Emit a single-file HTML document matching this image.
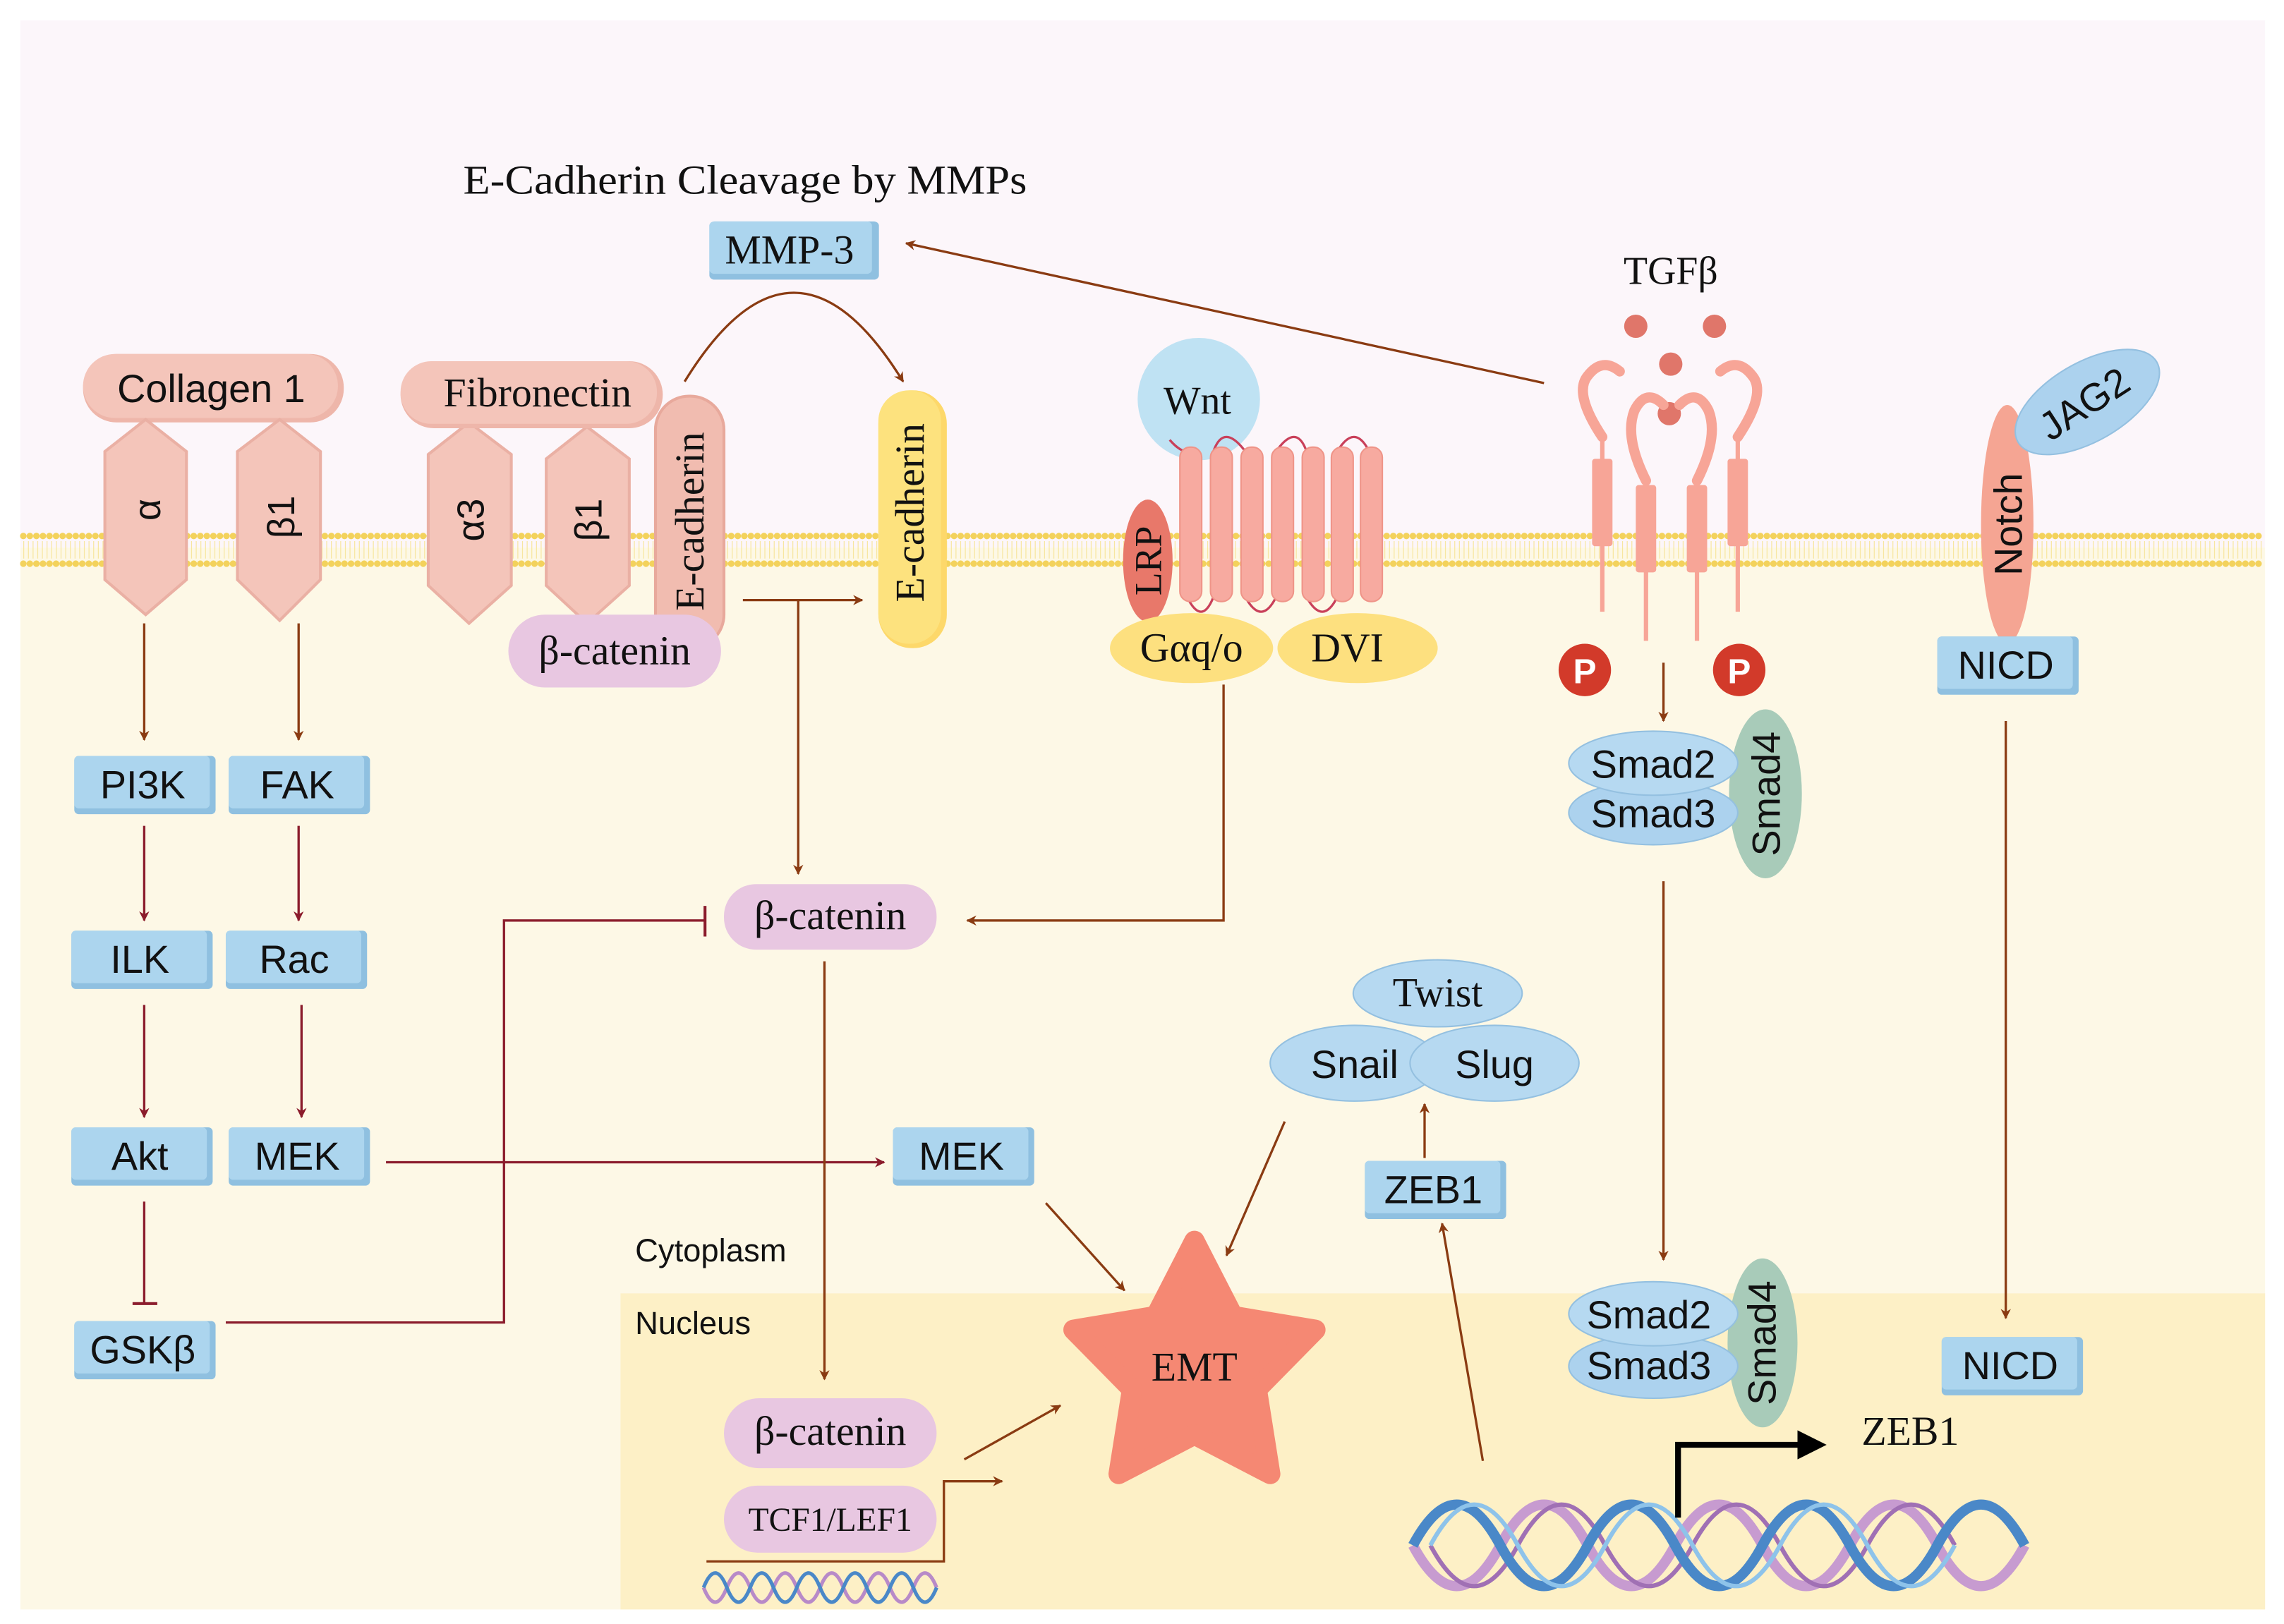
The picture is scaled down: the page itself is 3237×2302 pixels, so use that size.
<!DOCTYPE html>
<html><head><meta charset="utf-8"><style>
html,body{margin:0;padding:0;background:#fff}
svg{display:block}
.s{font-family:"Liberation Sans",sans-serif;fill:#111}
.r{font-family:"Liberation Serif",serif;fill:#111}
</style></head><body>
<svg width="3237" height="2302" viewBox="0 0 1568 1115" preserveAspectRatio="none" xmlns="http://www.w3.org/2000/svg">
<defs>
<marker id="ab" viewBox="0 0 10 10" refX="9" refY="5" markerWidth="7" markerHeight="7" orient="auto-start-reverse" markerUnits="userSpaceOnUse"><path d="M0,0 L10,5 L0,10 L3,5 z" fill="#8a3b12"/></marker>
<marker id="ar" viewBox="0 0 10 10" refX="9" refY="5" markerWidth="7" markerHeight="7" orient="auto" markerUnits="userSpaceOnUse"><path d="M0,0 L10,5 L0,10 L3,5 z" fill="#8b1c2c"/></marker>
<marker id="ak" viewBox="0 0 10 10" refX="8" refY="5" markerWidth="20" markerHeight="20" orient="auto" markerUnits="userSpaceOnUse"><path d="M0,0 L10,5 L0,10 z" fill="#000"/></marker>
<g id="box"><rect x="0" y="0" width="97" height="40" rx="3" fill="#8fc0e0"/><rect x="0" y="0" width="93" height="36" rx="3" fill="#acd5ee"/></g>
</defs>
<rect width="1568" height="1115" fill="#fff"/>
<rect x="14" y="14" width="1541" height="362" fill="#fcf6fa"/>
<rect x="14" y="376" width="1541" height="729" fill="#fdf8e6"/>
<rect x="426" y="888" width="1129" height="217" fill="#fdf0c6"/>
<g stroke="#f3d25c" stroke-linecap="round">
<line x1="16" y1="368" x2="1555" y2="368" stroke-width="4.5" stroke-dasharray="0 4.5"/>
<line x1="16" y1="387" x2="1555" y2="387" stroke-width="4.5" stroke-dasharray="0 4.5"/>
<line x1="16" y1="377.5" x2="1555" y2="377.5" stroke-width="12" stroke-dasharray="0.6 2.6" stroke-linecap="butt" stroke="#f7e6a0"/>
</g>
<text class="r" x="318" y="133" font-size="28" textLength="387" lengthAdjust="spacingAndGlyphs">E-Cadherin Cleavage by MMPs</text>
<g transform="translate(487,152)"><use href="#box" transform="scale(1.2,1)"/></g>
<text class="r" x="542" y="181" font-size="28" text-anchor="middle">MMP-3</text>
<line x1="1060" y1="263" x2="622" y2="167" stroke="#8a3b12" stroke-width="1.6" marker-end="url(#ab)"/>
<path d="M470,262 Q545,140 620,262" fill="none" stroke="#8a3b12" stroke-width="1.6" marker-end="url(#ab)"/>
<rect x="57" y="243" width="179" height="47" rx="23" fill="#eeb6aa"/>
<rect x="57" y="243" width="175" height="44" rx="22" fill="#f4c5ba"/>
<text class="s" x="145" y="276" font-size="27" text-anchor="middle">Collagen 1</text>
<g fill="#f4c5ba" stroke="#eab0a4" stroke-width="2">
<polygon points="100,288 128,310 128,398 100,422 72,398 72,310"/>
<polygon points="192,288 220,310 220,398 192,426 163,398 163,310"/>
<polygon points="322,290 351,312 351,402 322,428 294,402 294,312"/>
<polygon points="403,293 432,315 432,402 403,428 375,402 375,315"/>
</g>
<text class="s" font-size="26" transform="translate(110,350) rotate(-90)" text-anchor="middle">α</text>
<text class="s" font-size="26" transform="translate(202,355) rotate(-90)" text-anchor="middle">β1</text>
<text class="s" font-size="26" transform="translate(332,357) rotate(-90)" text-anchor="middle">α3</text>
<text class="s" font-size="26" transform="translate(413,357) rotate(-90)" text-anchor="middle">β1</text>
<rect x="275" y="248" width="180" height="46" rx="23" fill="#eeb6aa"/>
<rect x="275" y="248" width="176" height="43" rx="21" fill="#f4c5ba"/>
<text class="r" x="369" y="279" font-size="28" text-anchor="middle">Fibronectin</text>
<rect x="450" y="272" width="47" height="173" rx="23" fill="#f1bcb0" stroke="#e8a99c" stroke-width="2"/>
<text class="r" font-size="28" transform="translate(483,358) rotate(-90)" text-anchor="middle">E-cadherin</text>
<rect x="349" y="422" width="146" height="50" rx="25" fill="#e8c7e1"/>
<text class="r" x="422" y="456" font-size="28" text-anchor="middle">β-catenin</text>
<rect x="603" y="268" width="47" height="177" rx="23" fill="#fdd86a"/>
<rect x="603" y="268" width="43" height="174" rx="21" fill="#fde27e"/>
<text class="r" font-size="28" transform="translate(634,352) rotate(-90)" text-anchor="middle">E-cadherin</text>
<line x1="510" y1="412" x2="592" y2="412" stroke="#8a3b12" stroke-width="1.6" marker-end="url(#ab)"/>
<line x1="548" y1="412" x2="548" y2="600" stroke="#8a3b12" stroke-width="1.6" marker-end="url(#ab)"/>
<circle cx="823" cy="274" r="42" fill="#bfe2f3"/>
<text class="r" x="822" y="284" font-size="27" text-anchor="middle">Wnt</text>
<path d="M803,302 Q810,310 815,310 M833,310 Q840,290 855,310 M876,310 Q890,290 897,310 M918,310 Q930,290 940,310 M815,410 Q825,430 833,410 M855,410 Q866,430 876,410 M897,410 Q908,430 918,410" fill="none" stroke="#c9405a" stroke-width="1.6"/>
<g fill="#f7aaa0" stroke="#ef9488" stroke-width="1">
<rect x="810" y="307" width="15" height="106" rx="7"/><rect x="831" y="307" width="15" height="106" rx="7"/><rect x="852" y="307" width="15" height="106" rx="7"/><rect x="873" y="307" width="15" height="106" rx="7"/><rect x="894" y="307" width="15" height="106" rx="7"/><rect x="914" y="307" width="15" height="106" rx="7"/><rect x="934" y="307" width="15" height="106" rx="7"/>
</g>
<ellipse cx="788" cy="385" rx="17" ry="42" fill="#e8786a"/>
<text class="r" font-size="26" transform="translate(797,385) rotate(-90)" text-anchor="middle">LRP</text>
<ellipse cx="818" cy="445" rx="56" ry="24" fill="#fde07f"/>
<text class="r" x="818" y="454" font-size="28" text-anchor="middle">Gαq/o</text>
<ellipse cx="932" cy="445" rx="55" ry="24" fill="#fde07f"/>
<text class="r" x="925" y="454" font-size="28" text-anchor="middle">DVI</text>
<polyline points="840,470 840,632 664,632" fill="none" stroke="#8a3b12" stroke-width="1.6" marker-end="url(#ab)"/>
<text class="r" x="1147" y="195" font-size="27" text-anchor="middle">TGFβ</text>
<g fill="#e0766a"><circle cx="1123" cy="224" r="8"/><circle cx="1177" cy="224" r="8"/><circle cx="1147" cy="250" r="8"/><circle cx="1146" cy="284" r="8"/></g>
<g fill="none" stroke="#f7a597" stroke-width="7" stroke-linecap="round">
<path d="M1100,300 Q1080,270 1090,258 Q1100,245 1112,255"/>
<path d="M1193,300 Q1213,270 1203,258 Q1193,245 1181,255"/>
<path d="M1130,330 Q1115,300 1122,282 Q1130,266 1142,278"/>
<path d="M1165,330 Q1180,300 1173,282 Q1165,266 1153,278"/>
</g>
<g stroke="#f7a597" stroke-width="3"><line x1="1100" y1="300" x2="1100" y2="420"/><line x1="1193" y1="300" x2="1193" y2="420"/><line x1="1130" y1="330" x2="1130" y2="440"/><line x1="1165" y1="330" x2="1165" y2="440"/></g>
<g fill="#f7a597"><rect x="1093" y="315" width="14" height="60" rx="2"/><rect x="1186" y="315" width="14" height="60" rx="2"/><rect x="1123" y="333" width="14" height="60" rx="2"/><rect x="1158" y="333" width="14" height="60" rx="2"/></g>
<circle cx="1088" cy="460" r="18" fill="#d23a2a"/><text class="s" x="1088" y="469" font-size="24" font-weight="bold" style="fill:#fff" text-anchor="middle">P</text>
<circle cx="1194" cy="460" r="18" fill="#d23a2a"/><text class="s" x="1194" y="469" font-size="24" font-weight="bold" style="fill:#fff" text-anchor="middle">P</text>
<line x1="1142" y1="455" x2="1142" y2="495" stroke="#8a3b12" stroke-width="1.6" marker-end="url(#ab)"/>
<ellipse cx="1212" cy="545" rx="25" ry="58" fill="#a8cbb9"/>
<ellipse cx="1135" cy="558" rx="58" ry="22" fill="#acd2ee" stroke="#94c0e0"/>
<ellipse cx="1135" cy="524" rx="58" ry="22" fill="#b6d9f1" stroke="#94c0e0"/>
<text class="s" x="1135" y="534" font-size="27" text-anchor="middle">Smad2</text>
<text class="s" x="1135" y="568" font-size="27" text-anchor="middle">Smad3</text>
<text class="s" font-size="27" transform="translate(1222,545) rotate(-90)" text-anchor="middle">Smad4</text>
<ellipse cx="1378" cy="360" rx="18" ry="82" fill="#f5a593"/>
<text class="s" font-size="27" transform="translate(1388,360) rotate(-90)" text-anchor="middle">Notch</text>
<ellipse cx="1433" cy="276" rx="55" ry="27" fill="#acd2ee" stroke="#94c0e0" transform="rotate(-30 1433 276)"/>
<text class="s" font-size="27" transform="translate(1436,285) rotate(-33)" text-anchor="middle">JAG2</text>
<use href="#box" x="1330" y="437"/><text class="s" x="1377" y="466" font-size="27" text-anchor="middle">NICD</text>
<line x1="1377" y1="495" x2="1377" y2="905" stroke="#8a3b12" stroke-width="1.6" marker-end="url(#ab)"/>
<use href="#box" x="1333" y="918"/><text class="s" x="1380" y="947" font-size="27" text-anchor="middle">NICD</text>
<use href="#box" x="51" y="519"/><text class="s" x="98" y="548" font-size="27" text-anchor="middle">PI3K</text>
<use href="#box" x="157" y="519"/><text class="s" x="204" y="548" font-size="27" text-anchor="middle">FAK</text>
<use href="#box" x="49" y="639"/><text class="s" x="96" y="668" font-size="27" text-anchor="middle">ILK</text>
<use href="#box" x="155" y="639"/><text class="s" x="202" y="668" font-size="27" text-anchor="middle">Rac</text>
<use href="#box" x="49" y="774"/><text class="s" x="96" y="803" font-size="27" text-anchor="middle">Akt</text>
<use href="#box" x="157" y="774"/><text class="s" x="204" y="803" font-size="27" text-anchor="middle">MEK</text>
<use href="#box" x="51" y="907"/><text class="s" x="98" y="936" font-size="27" text-anchor="middle">GSKβ</text>
<g stroke-width="1.6" fill="none">
<line x1="99" y1="428" x2="99" y2="508" stroke="#8a3b12" marker-end="url(#ab)"/>
<line x1="205" y1="428" x2="205" y2="508" stroke="#8a3b12" marker-end="url(#ab)"/>
<line x1="99" y1="567" x2="99" y2="632" stroke="#8b1c2c" marker-end="url(#ar)"/>
<line x1="205" y1="567" x2="205" y2="632" stroke="#8b1c2c" marker-end="url(#ar)"/>
<line x1="99" y1="690" x2="99" y2="767" stroke="#8b1c2c" marker-end="url(#ar)"/>
<line x1="207" y1="690" x2="207" y2="767" stroke="#8b1c2c" marker-end="url(#ar)"/>
<line x1="99" y1="825" x2="99" y2="895" stroke="#8b1c2c"/><line x1="91" y1="895" x2="108" y2="895" stroke="#8b1c2c" stroke-width="2"/>
<polyline points="155,908 346,908 346,632 484,632" stroke="#8b1c2c"/><line x1="484" y1="622" x2="484" y2="643" stroke="#8b1c2c" stroke-width="2"/>
<line x1="265" y1="798" x2="607" y2="798" stroke="#8b1c2c" marker-end="url(#ar)"/>
<line x1="566" y1="660" x2="566" y2="947" stroke="#8a3b12" marker-end="url(#ab)"/>
<line x1="718" y1="826" x2="772" y2="886" stroke="#8a3b12" marker-end="url(#ab)"/>
<line x1="882" y1="770" x2="842" y2="862" stroke="#8a3b12" marker-end="url(#ab)"/>
<line x1="662" y1="1002" x2="728" y2="965" stroke="#8a3b12" marker-end="url(#ab)"/>
<polyline points="485,1072 648,1072 648,1017 688,1017" stroke="#8a3b12" marker-end="url(#ab)"/>
<line x1="978" y1="795" x2="978" y2="758" stroke="#8a3b12" marker-end="url(#ab)"/>
<line x1="1018" y1="1003" x2="990" y2="840" stroke="#8a3b12" marker-end="url(#ab)"/>
<line x1="1142" y1="605" x2="1142" y2="865" stroke="#8a3b12" marker-end="url(#ab)"/>
</g>
<rect x="497" y="607" width="146" height="45" rx="22" fill="#e8c7e1"/>
<text class="r" x="570" y="638" font-size="28" text-anchor="middle">β-catenin</text>
<use href="#box" x="613" y="774"/><text class="s" x="660" y="803" font-size="27" text-anchor="middle">MEK</text>
<text class="s" x="436" y="866" font-size="22">Cytoplasm</text>
<text class="s" x="436" y="916" font-size="22">Nucleus</text>
<polygon points="820,852 846.5,903.6 903,913 862.8,953.9 872,1012 820,985 768,1012 777.2,953.9 737,913 793.5,903.6" fill="#f58873" stroke="#f58873" stroke-width="14" stroke-linejoin="round"/>
<text class="r" x="820" y="948" font-size="28" text-anchor="middle">EMT</text>
<ellipse cx="987" cy="682" rx="58" ry="23" fill="#b6d9f1" stroke="#94c0e0"/>
<text class="r" x="987" y="691" font-size="28" text-anchor="middle">Twist</text>
<ellipse cx="930" cy="730" rx="58" ry="26" fill="#b6d9f1" stroke="#94c0e0"/>
<ellipse cx="1026" cy="730" rx="58" ry="26" fill="#b6d9f1" stroke="#94c0e0"/>
<text class="s" x="930" y="740" font-size="27" text-anchor="middle">Snail</text>
<text class="s" x="1026" y="740" font-size="27" text-anchor="middle">Slug</text>
<use href="#box" x="937" y="797"/><text class="s" x="984" y="826" font-size="27" text-anchor="middle">ZEB1</text>
<ellipse cx="1210" cy="922" rx="24" ry="58" fill="#a8cbb9"/>
<ellipse cx="1135" cy="938" rx="58" ry="22" fill="#acd2ee" stroke="#94c0e0"/>
<ellipse cx="1135" cy="902" rx="58" ry="22" fill="#b6d9f1" stroke="#94c0e0"/>
<text class="s" x="1132" y="912" font-size="27" text-anchor="middle">Smad2</text>
<text class="s" x="1132" y="947" font-size="27" text-anchor="middle">Smad3</text>
<text class="s" font-size="27" transform="translate(1219,922) rotate(-90)" text-anchor="middle">Smad4</text>
<rect x="497" y="960" width="146" height="48" rx="24" fill="#e8c7e1"/>
<text class="r" x="570" y="992" font-size="28" text-anchor="middle">β-catenin</text>
<rect x="497" y="1020" width="146" height="46" rx="23" fill="#e8c7e1"/>
<text class="r" x="570" y="1051" font-size="23" text-anchor="middle">TCF1/LEF1</text>
<g fill="none">
<path d="M970,1061 Q1000,1117 1030,1061 T1090,1061 T1150,1061 T1210,1061 T1270,1061 T1330,1061 T1390,1061" stroke="#c79bd0" stroke-width="7"/>
<path d="M982,1061 Q1012,1117 1042,1061 T1102,1061 T1162,1061 T1222,1061 T1282,1061 T1342,1061" stroke="#a070b4" stroke-width="3"/>
<path d="M970,1061 Q1000,1005 1030,1061 T1090,1061 T1150,1061 T1210,1061 T1270,1061 T1330,1061 T1390,1061" stroke="#4a88c8" stroke-width="7"/>
<path d="M982,1061 Q1012,1005 1042,1061 T1102,1061 T1162,1061 T1222,1061 T1282,1061 T1342,1061" stroke="#8ec3ea" stroke-width="3"/>
</g>
<polyline points="1152,1042 1152,992 1250,992" fill="none" stroke="#000" stroke-width="4" marker-end="url(#ak)"/>
<text class="r" x="1278" y="992" font-size="28">ZEB1</text>
<g fill="none" stroke-width="2.5">
<path d="M483,1090 Q491,1110 499,1090 T515,1090 T531,1090 T547,1090 T563,1090 T579,1090 T595,1090 T611,1090 T627,1090 T643,1090" stroke="#b88ac8"/>
<path d="M483,1090 Q491,1070 499,1090 T515,1090 T531,1090 T547,1090 T563,1090 T579,1090 T595,1090 T611,1090 T627,1090 T643,1090" stroke="#4a88c8"/>
</g>
</svg>
</body></html>
